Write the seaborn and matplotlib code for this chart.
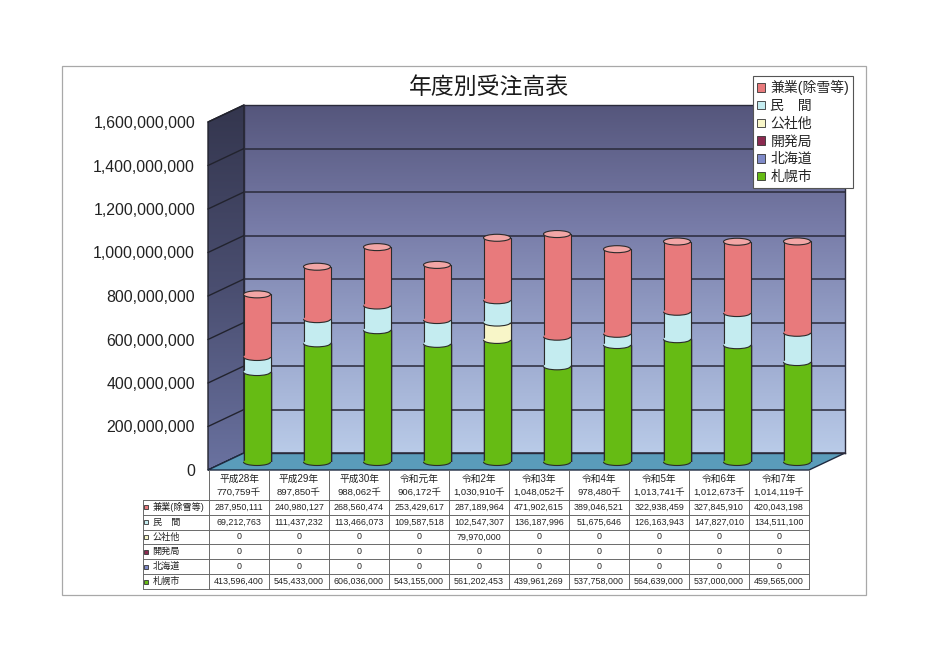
import numpy as np
import matplotlib
matplotlib.use("Agg")
import matplotlib.pyplot as plt
import seaborn as sns
from matplotlib.patches import Polygon, Rectangle, Ellipse, Arc, Patch
from matplotlib.colors import LinearSegmentedColormap
from matplotlib.ticker import FuncFormatter

# ---------------- data ----------------
years = ['平成28年', '平成29年', '平成30年', '令和元年', '令和2年',
         '令和3年', '令和4年', '令和5年', '令和6年', '令和7年']
totals_k = [770759, 897850, 988062, 906172, 1030910,
            1048052, 978480, 1013741, 1012673, 1014119]

kengyo = [287950111, 240980127, 268560474, 253429617, 287189964,
          471902615, 389046521, 322938459, 327845910, 420043198]
minkan = [69212763, 111437232, 113466073, 109587518, 102547307,
          136187996, 51675646, 126163943, 147827010, 134511100]
kosha = [0, 0, 0, 0, 79970000, 0, 0, 0, 0, 0]
kaihatsu = [0, 0, 0, 0, 0, 0, 0, 0, 0, 0]
hokkaido = [0, 0, 0, 0, 0, 0, 0, 0, 0, 0]
sapporo = [413596400, 545433000, 606036000, 543155000, 561202453,
           439961269, 537758000, 564639000, 537000000, 459565000]

# table / legend order (top to bottom)
series_names = ['兼業(除雪等)', '民\u3000間', '公社他', '開発局', '北海道', '札幌市']
series_vals = [kengyo, minkan, kosha, kaihatsu, hokkaido, sapporo]
series_colors = ['#e87a7c', '#c4ecf0', '#f8f6c8', '#8b2a50', '#7f8ac8', '#66bb14']
cap_color = '#f2a6a6'

yticks = np.arange(0, 1.6e9 + 1, 2e8)
YMAX = 1.6e9

# ---------------- layout (pixels) ----------------
W, H = 936, 662
FX0, FX1, FY0, FY1 = 209, 809, 470, 122   # front plane: zero line / top
DX, DY = 36, 17                           # depth of the 3D box
MX, MY = 18, 8                            # bars sit at half depth

sns.set_style("white")
plt.rcParams['font.family'] = ['Liberation Sans', 'Noto Sans CJK JP']

fig = plt.figure(figsize=(W / 100, H / 100), dpi=100, facecolor='white')


def px_axes(x0, y0, x1, y1, **kw):
    # y0 = top pixel, y1 = bottom pixel
    return fig.add_axes([x0 / W, 1 - y1 / H, (x1 - x0) / W, (y1 - y0) / H], **kw)


def y_front(v):
    return FY0 - v / YMAX * (FY0 - FY1)


def y_back(v):
    return y_front(v) - DY


# canvas for walls, floor and frame
canvas = fig.add_axes([0, 0, 1, 1], zorder=0)
canvas.set_xlim(0, W)
canvas.set_ylim(H, 0)
canvas.axis('off')

canvas.add_patch(Rectangle((62, 66), 866 - 62, 595 - 66, fill=False,
                           edgecolor='#a8a8a8', lw=0.9))

# side wall with gradient
side_cmap = LinearSegmentedColormap.from_list('side', ['#34364e', '#4a4e70', '#6a72a0'])
side_poly = Polygon([(FX0 - 1, y_front(0)), (FX0 - 1 + DX, y_back(0)),
                     (FX0 - 1 + DX, y_back(YMAX)), (FX0 - 1, y_front(YMAX))],
                    closed=True, facecolor='none', edgecolor='#22232e', lw=1.0, zorder=3)
canvas.add_patch(side_poly)
grad = np.linspace(0, 1, 256).reshape(-1, 1)
im = canvas.imshow(grad, extent=(FX0 - 1, FX0 - 1 + DX, y_front(0), y_back(YMAX)),
                   cmap=side_cmap, aspect='auto', zorder=2)
im.set_clip_path(side_poly)
for v in yticks:
    canvas.plot([FX0 - 1, FX0 - 1 + DX], [y_front(v), y_back(v)], color='#22232e', lw=1.0, zorder=3)

# back wall
wall = px_axes(FX0 - 1 + DX, y_back(YMAX), FX1 + DX, y_back(0), zorder=1)
wall_cmap = LinearSegmentedColormap.from_list(
    'wall', ['#55567c', '#767aa6', '#98a4cb', '#b9cbe8'])
wall.imshow(grad, extent=(0, 1, 0, YMAX), cmap=wall_cmap, aspect='auto')
wall.set_xlim(0, 1)
wall.set_ylim(0, YMAX)
wall.set_yticks(yticks)
wall.set_xticks([])
wall.tick_params(left=False, labelleft=False)
wall.grid(axis='y', color='#2a2a3a', lw=1.1)
for s in wall.spines.values():
    s.set_color('#2a2a3a')
    s.set_linewidth(1.0)

# floor
canvas.add_patch(Polygon([(FX0 - 1, y_front(0)), (FX1, y_front(0)),
                          (FX1 + DX, y_back(0)), (FX0 - 1 + DX, y_back(0))],
                         closed=True, facecolor='#5a9cba', edgecolor='#1e2a40',
                         lw=1.0, zorder=4))

# front axis: only the value labels
front = px_axes(FX0, FY1, FX1, FY0, zorder=2)
front.patch.set_alpha(0)
front.set_ylim(0, YMAX)
front.set_yticks(yticks)
front.yaxis.set_major_formatter(FuncFormatter(lambda v, p: f'{v:,.0f}'))
front.tick_params(axis='y', length=0, pad=10, labelsize=11.4, labelcolor='#222222')
front.set_xticks([])
for s in front.spines.values():
    s.set_visible(False)

# ---------------- bars ----------------
ax = px_axes(FX0 + MX, FY1 - MY, FX1 + MX, FY0 - MY, zorder=5)
ax.patch.set_alpha(0)

stack_vals = series_vals[::-1]          # bottom to top
stack_cols = series_colors[::-1]
cum = np.cumsum(np.array(stack_vals, dtype=float), axis=0)
BW = 0.45
for k in range(len(stack_vals) - 1, -1, -1):
    sns.barplot(x=years, y=cum[k], order=years, color=stack_cols[k], width=BW,
                edgecolor='#2b2b2b', linewidth=0.8, saturation=1, ax=ax)

ax.set_xlim(-0.5, len(years) - 0.5)
ax.set_ylim(0, YMAX)
ax.axis('off')

eh = 7 / (FY0 - FY1) * YMAX   # ellipse height, 7 px in data units
for i in range(len(years)):
    bottom = 0.0
    for k in range(len(stack_vals)):
        v = stack_vals[k][i]
        if v <= 0:
            continue
        ax.add_patch(Ellipse((i, bottom), BW, eh, facecolor=stack_cols[k],
                             edgecolor='none', zorder=6, clip_on=False))
        ax.add_patch(Arc((i, bottom), BW, eh, theta1=180, theta2=360,
                         edgecolor='#2b2b2b', lw=0.8, zorder=7, clip_on=False))
        bottom += v
    ax.add_patch(Ellipse((i, bottom), BW, eh, facecolor=cap_color,
                         edgecolor='#2b2b2b', lw=0.8, zorder=7, clip_on=False))

# ---------------- data table ----------------
LW = 66 / 60
tab = px_axes(143, 470, 809, 589, zorder=6)
tab.set_xlim(-LW, len(years))
tab.set_ylim(8, 0)
tab.axis('off')
line_c = '#6a6a6a'
for r in range(2, 9):
    tab.plot([-LW, len(years)], [r, r], color=line_c, lw=0.7, clip_on=False)
for c in range(len(years) + 1):
    tab.plot([c, c], [0, 8], color=line_c, lw=0.7, clip_on=False)
tab.plot([-LW, -LW], [2, 8], color=line_c, lw=0.7, clip_on=False)

for i, (yr, tk) in enumerate(zip(years, totals_k)):
    tab.text(i + 0.5, 0.62, yr, ha='center', va='center', fontsize=7, color='#222')
    tab.text(i + 0.5, 1.48, f'{tk:,}千', ha='center', va='center', fontsize=6.8, color='#222')

for r, (name, vals, col) in enumerate(zip(series_names, series_vals, series_colors)):
    yy = r + 2.5
    tab.plot([-LW + 0.055], [yy], marker='s', ms=3.4, mfc=col, mec='#333', mew=0.6)
    tab.text(-LW + 0.16, yy, name, ha='left', va='center', fontsize=6.6, color='#222')
    for i, v in enumerate(vals):
        tab.text(i + 0.5, yy, f'{v:,}', ha='center', va='center',
                 fontsize=6.4, color='#222')

# ---------------- title and legend ----------------
fig.text(489 / W, 1 - 87 / H, '年度別受注高表', ha='center', va='center',
         fontsize=16.5, color='#1a1a1a')

handles = [Patch(facecolor=c, edgecolor='#333', lw=0.6) for c in series_colors]
leg = fig.legend(handles, series_names, loc='upper left',
                 bbox_to_anchor=(753 / W, 1 - 76 / H), fontsize=10,
                 frameon=True, fancybox=False, edgecolor='#555', framealpha=1,
                 handlelength=0.55, handleheight=0.55, handletextpad=0.4,
                 labelspacing=0.27, borderpad=0.3, borderaxespad=0)
leg.get_frame().set_linewidth(0.8)
leg.set_zorder(10)

fig.savefig('out.png', dpi=100, facecolor='white')
